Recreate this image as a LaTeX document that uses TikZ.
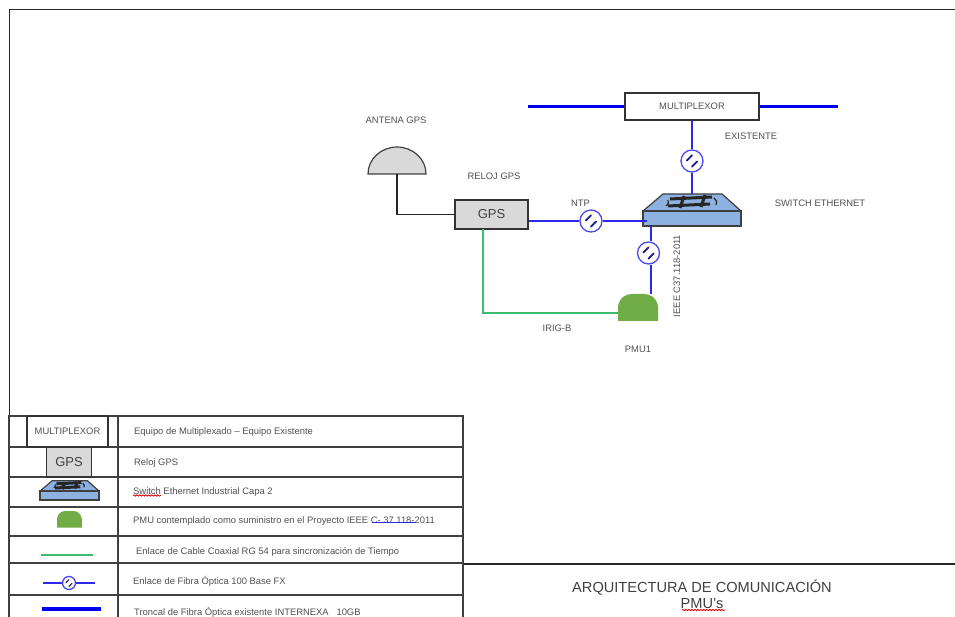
\documentclass[tikz,border=0pt]{standalone}
\usepackage{fontspec}
\setmainfont{Liberation Sans}
\usetikzlibrary{calc, decorations.pathmorphing}
\definecolor{textgray}{HTML}{505050}
\definecolor{fiberblue}{HTML}{2A2AE8}
\definecolor{trunkblue}{HTML}{0000F0}
\definecolor{coaxgreen}{HTML}{3DBB6E}
\definecolor{switchblue}{HTML}{8DB1E0}
\definecolor{pmugreen}{HTML}{70AD47}
\definecolor{gpsgray}{HTML}{D9D9D9}
\tikzset{
	label/.style={text=textgray, font=\fontsize{9.4}{11}\selectfont, inner sep=0pt},
	legendtext/.style={label, anchor=west},
	rule/.style={draw=black!75, line width=1.1pt},
	muxbox/.style={draw=black!80, fill=white, line width=1.2pt, inner sep=0pt, text=textgray, font=\fontsize{9.4}{11}\selectfont},
	gpsbox/.style={draw=black!80, fill=gpsgray, line width=1.2pt, inner sep=0pt, text=black!75, font=\fontsize{13}{15}\selectfont},
	fiberline/.style={draw=fiberblue, line width=1.4pt},
	trunkline/.style={draw=trunkblue, line width=3.8pt},
	coaxline/.style={draw=coaxgreen, line width=1.3pt},
	fibernode/.style={circle, draw=fiberblue!85, fill=white, line width=1.3pt, inner sep=0pt, minimum size=#1,
		path picture={
			\coordinate (C) at (path picture bounding box.center);
			\draw[fiberblue!60!black, line width=.08*#1, line cap=round]
				($(C)+(-.24*#1,.02*#1)$) -- ++(.24*#1,.24*#1)
				($(C)+(.24*#1,-.02*#1)$) -- ++(-.24*#1,-.24*#1);
		}},
	pics/ethswitch/.style={code={
		\coordinate (-top) at (0,-17);
		\coordinate (-left) at (-45,10);
		\coordinate (-bot) at (-41,15);
		\fill[switchblue, draw=black!75, line width=1.2pt, line join=round] (-49,0) -- (-29,-17) -- (30,-17) -- (49,0) -- cycle;
		\fill[switchblue, draw=black!75, line width=1.3pt] (-49,0) rectangle (49,15);
		\draw[black!85, line width=3pt] (-22,-12) -- (20,-14) (-24,-5) -- (18,-7) (-8,-15) -- (-12,-3) (13,-16) -- (9,-4);
		\draw[black!85, line width=1.2pt] (-26,-5) to[bend right=50] (-24,-11) (24,-6) to[bend right=50] (22,-13);
	}},
	pics/pmushape/.style={code={
		\coordinate (-top) at (13,0);
		\coordinate (-left) at (0,19);
		\fill[pmugreen] (0,27) -- (0,12) .. controls (2,3) and (8,0) .. (14,0) -- (26,0) .. controls (32,0) and (38,3) .. (40,12) -- (40,27) -- cycle;
	}},
}
\begin{document}
\begin{tikzpicture}[x=1pt, y=-1pt]
	\useasboundingbox (0,0) rectangle (955,617);
	% frame
	\draw[black!85, line width=1pt] (9,617) -- (9,10) -- (955,10);
	\draw[black!85, line width=2pt] (463,563.5) -- (955,563.5);
	% main diagram
	\node[muxbox, minimum width=134pt, minimum height=27pt] (mux) at (692,106.5) {MULTIPLEXOR};
	\coordinate (trunkL) at (528,106.5);
	\coordinate (trunkR) at (838,106.5);
	\node[gpsbox, minimum width=73pt, minimum height=29pt] (gps) at (491.5,214.5) {GPS};
	\draw[trunkline] (trunkL) -- (mux.west);
	\draw[trunkline] (mux.east) -- (trunkR);
	\pic (sw) at (692,211) {ethswitch};
	\pic (pmu) at (618,294) {pmushape};
	\fill[gpsgray, draw=black!75, line width=1.2pt] (368,174) arc[start angle=180, end angle=360, x radius=29, y radius=27] -- cycle;
	\coordinate (ant) at (397,174);
	\node[fibernode=22pt] (fibTop) at (692,161) {};
	\node[fibernode=22pt] (fibNtp) at (591,221) {};
	\node[fibernode=22pt] (fibPmu) at (648.5,253) {};
	\draw[fiberline] (mux.south) -- (fibTop);
	\draw[fiberline] (fibTop) -- (sw-top);
	\draw[fiberline] (gps.east |- fibNtp) -- (fibNtp);
	\draw[fiberline] (fibNtp) -- (sw-left |- fibNtp);
	\draw[fiberline] (sw-bot) -- (fibPmu.north -| sw-bot);
	\draw[fiberline] (fibPmu.south -| sw-bot) -- (pmu-top -| sw-bot);
	\draw[black!85, line width=1.6pt] (ant) |- (gps.west);
	\draw[coaxline] (483,229) |- (pmu-left);
	\node[label] (lblAntena) at (396,120) {ANTENA GPS};
	\node[label] (lblReloj) at (494,176) {RELOJ GPS};
	\node[label] (lblNtp) at (580.5,203) {NTP};
	\node[label] (lblExist) at (751,136) {EXISTENTE};
	\node[label] (lblSwitch) at (820,203) {SWITCH ETHERNET};
	\node[label, rotate=90] (lblIeee) at (677,276) {IEEE C37.118-2011};
	\node[label] (lblIrig) at (557,328) {IRIG-B};
	\node[label] (lblPmu) at (638,349) {PMU1};
	% legend table
	\draw[rule] (9,416) rectangle (463,620);
	\foreach \y in {447,477,507,536,563,595} {
		\draw[rule] (9,\y) -- (463,\y);
	}
	\draw[rule] (118,416) -- (118,617);
	\node[muxbox, minimum width=81pt, minimum height=31pt] (legMux) at (67.5,431.5) {\raisebox{-2pt}{MULTIPLEXOR}};
	\node[gpsbox, minimum width=45pt, minimum height=30pt] (legGps) at (69,462) {GPS};
	\pic[scale=.6] (legSw) at (69.5,491) {ethswitch};
	\pic[scale=.62] (legPmu) at (57,511) {pmushape};
	\coordinate (legCoaxL) at (41,555);
	\coordinate (legCoaxR) at (93,555);
	\draw[coaxline] (legCoaxL) -- (legCoaxR);
	\coordinate (legFibL) at (43,583);
	\coordinate (legFibR) at (95,583);
	\node[fibernode=13pt] (legFib) at (69,583) {};
	\draw[fiberline] (legFibL) -- (legFib);
	\draw[fiberline] (legFib) -- (legFibR);
	\coordinate (legTrunkL) at (42,609);
	\coordinate (legTrunkR) at (101,609);
	\draw[trunkline] (legTrunkL) -- (legTrunkR);
	\node[legendtext] (legT1) at (134,432) {Equipo de Multiplexado -- Equipo Existente};
	\node[legendtext] (legT2) at (134,463) {Reloj GPS};
	\node[legendtext] (legT3) at (133,492) {Switch Ethernet Industrial Capa 2};
	\node[legendtext] (legT4) at (133,521) {PMU contemplado como suministro en el Proyecto IEEE C- 37.118-2011};
	\node[legendtext] (legT5) at (136,552) {Enlace de Cable Coaxial RG 54 para sincronización de Tiempo};
	\node[legendtext] (legT6) at (133,581) {Enlace de Fibra Óptica 100 Base FX};
	\node[legendtext] (legT7) at (134,612) {Troncal de Fibra Óptica existente INTERNEXA~~ 10GB};
	% spell marks
	\draw[red!85!black, line width=.8pt, decorate, decoration={snake, amplitude=.7pt, segment length=3pt}] (133,495.5) -- (161,495.5);
	\draw[fiberblue, line width=1pt] (372,522.5) -- (415,522.5);
	% title
	\node[text=black!75, font=\fontsize{14.6}{17}\selectfont, inner sep=0pt] (title) at (702,588) {ARQUITECTURA DE COMUNICACIÓN};
	\node[text=black!75, font=\fontsize{14.6}{17}\selectfont, inner sep=0pt] (subtitle) at (702,604) {PMU's};
	\draw[red!85!black, line width=.8pt, decorate, decoration={snake, amplitude=.7pt, segment length=3pt}] (682,610) -- (725,610);
\end{tikzpicture}
\end{document}
